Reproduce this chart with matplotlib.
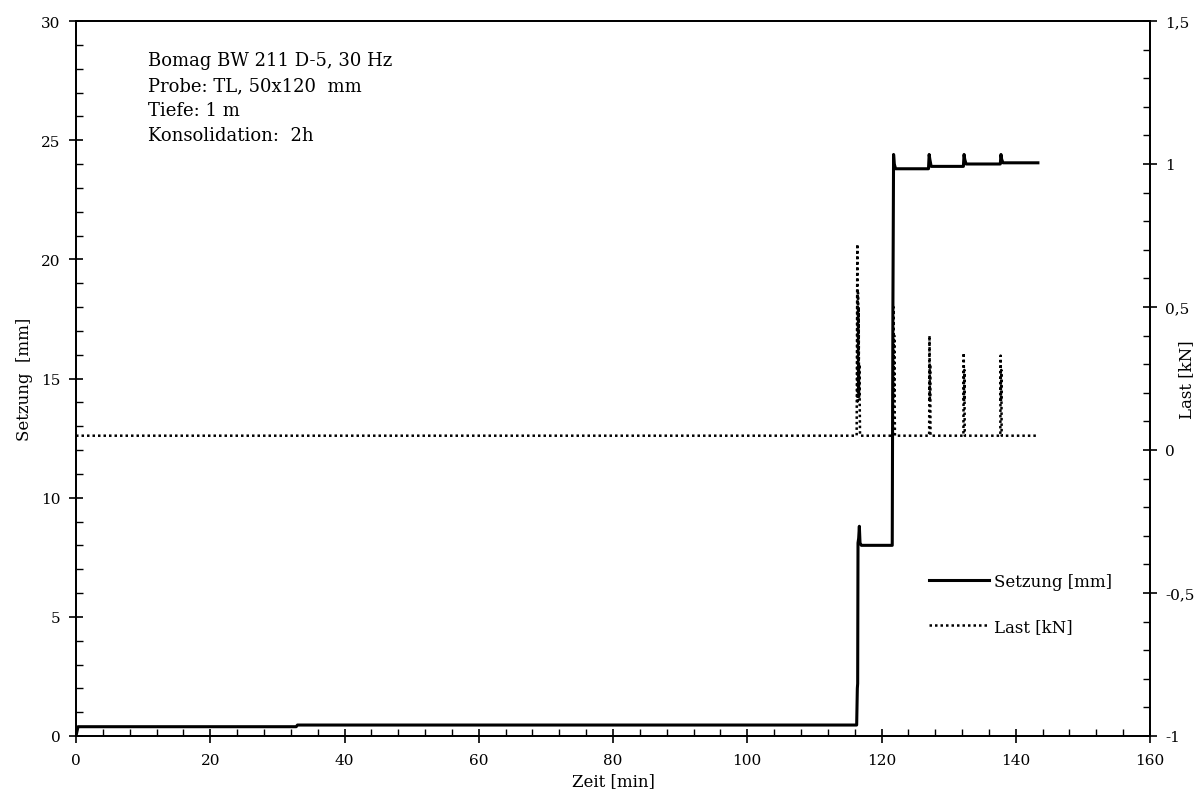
import matplotlib.pyplot as plt
from matplotlib.ticker import MultipleLocator, FuncFormatter

plt.rcParams['font.family'] = ['DejaVu Serif']
plt.rcParams['font.size'] = 11

# Setzung [mm] ueber Zeit [min]
zeit_s = [0, 0.3, 32.8, 33.0, 116.3, 116.4, 116.45, 116.5, 116.6, 116.7, 116.8, 117.0, 121.6, 121.7, 121.8, 121.9, 122.1,
          127.0, 127.1, 127.2, 127.4, 132.2, 132.3, 132.4, 132.6, 137.7, 137.8, 137.9, 138.1, 143.3]
setzung = [0.0, 0.39, 0.39, 0.46, 0.46, 2.0, 2.2, 8.1, 8.3, 8.8, 8.1, 8.0, 8.0, 18.0, 24.4, 24.0, 23.8,
           23.8, 24.4, 24.2, 23.9, 23.9, 24.4, 24.2, 24.0, 24.0, 24.4, 24.2, 24.05, 24.05]

# Last [kN] ueber Zeit [min]
zeit_l = [0, 116.3, 116.4, 116.45, 116.5, 116.55, 116.6, 116.65, 116.7, 116.8, 117.0,
          121.7, 121.8, 121.85, 121.9, 121.95, 122.0, 122.1,
          127.1, 127.15, 127.2, 127.25, 127.3, 127.4,
          132.2, 132.25, 132.3, 132.35, 132.4, 132.5,
          137.7, 137.75, 137.8, 137.85, 137.9, 138.0, 143.3]
last = [0.05, 0.05, 0.72, 0.17, 0.55, 0.2, 0.5, 0.18, 0.3, 0.05, 0.05,
        0.05, 0.5, 0.18, 0.4, 0.2, 0.05, 0.05,
        0.05, 0.4, 0.17, 0.3, 0.05, 0.05,
        0.05, 0.34, 0.17, 0.28, 0.05, 0.05,
        0.05, 0.33, 0.17, 0.28, 0.05, 0.05, 0.05]

fig = plt.figure(figsize=(12.01, 8.03), dpi=100)
ax = fig.add_axes([76 / 1201, 1 - 737 / 803, (1150 - 76) / 1201, (737 - 22) / 803])
ax2 = ax.twinx()

l1, = ax.plot(zeit_s, setzung, color='black', lw=2.2, label='Setzung [mm]')
l2, = ax2.plot(zeit_l, last, color='black', lw=1.8, ls=(0, (1, 1.2)), label='Last [kN]')

ax.set_xlim(0, 160)
ax.set_ylim(0, 30)
ax2.set_ylim(-1, 1.5)

ax.xaxis.set_major_locator(MultipleLocator(20))
ax.xaxis.set_minor_locator(MultipleLocator(4))
ax.yaxis.set_major_locator(MultipleLocator(5))
ax.yaxis.set_minor_locator(MultipleLocator(1))
ax2.yaxis.set_major_locator(MultipleLocator(0.5))
ax2.yaxis.set_minor_locator(MultipleLocator(0.1))
ax2.yaxis.set_major_formatter(FuncFormatter(lambda v, p: ('%g' % v).replace('.', ',')))

for a in (ax, ax2):
    a.tick_params(which='major', direction='inout', length=10, width=1.2, colors='black')
    a.tick_params(which='minor', direction='in', length=5, width=1.0)
    for s in a.spines.values():
        s.set_linewidth(1.3)
ax.tick_params(which='both', top=False, right=False)
ax.tick_params(axis='x', which='major', pad=7)
ax.tick_params(axis='y', which='major', pad=6)
ax2.tick_params(axis='y', which='major', pad=6)

ax.set_xlabel('Zeit [min]', fontsize=12, labelpad=4)
ax.set_ylabel('Setzung  [mm]', fontsize=12, labelpad=6)
ax2.set_ylabel('Last [kN]', fontsize=12)
ax2.yaxis.set_label_coords((1178 - 76) / 1074, 0.5)

ax.text(0.067, 0.958, 'Bomag BW 211 D-5, 30 Hz\nProbe: TL, 50x120  mm\nTiefe: 1 m\nKonsolidation:  2h',
        transform=ax.transAxes, va='top', ha='left', linespacing=1.5, fontsize=13)

ax.legend(handles=[l1, l2], loc='lower left', bbox_to_anchor=(0.78, 0.12), frameon=False,
          handlelength=3.6, handletextpad=0.3, labelspacing=1.7, fontsize=12)

fig.savefig('out.png', dpi=100)
